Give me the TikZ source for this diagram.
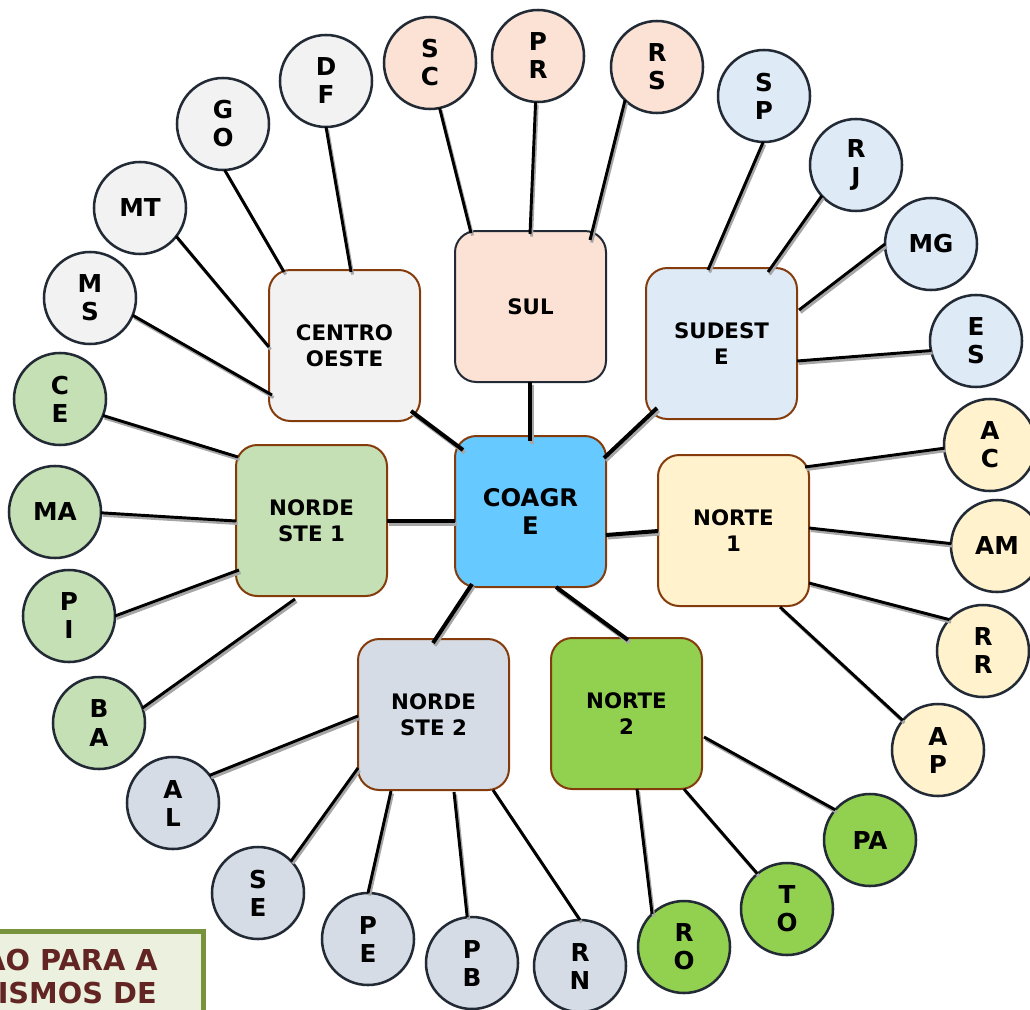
\documentclass[tikz,border=0pt]{standalone}
\usepackage{fontspec}
\setmainfont{DejaVu Sans}
\usetikzlibrary{calc}
\definecolor{boxbrown}{HTML}{843C0C}
\definecolor{circborder}{HTML}{222A35}
\definecolor{shadowgray}{HTML}{A6A6A6}
\definecolor{cco}{HTML}{F2F2F2}
\definecolor{csul}{HTML}{FBE2D5}
\definecolor{cse}{HTML}{DEEBF7}
\definecolor{ccoagre}{HTML}{66C9FF}
\definecolor{cnone}{HTML}{FFF2CC}
\definecolor{cneone}{HTML}{C5E0B4}
\definecolor{cnetwo}{HTML}{D6DCE5}
\definecolor{cntwo}{HTML}{92D050}
\definecolor{legfill}{HTML}{EBF1DE}
\definecolor{legborder}{HTML}{77933C}
\definecolor{legtext}{HTML}{632523}
\newcommand\cconn[3][2.2pt]{%
  \draw[shd,line width=#1] #2 -- #3;
  \draw[cn,line width=#1] #2 -- #3;}
\begin{document}
\begin{tikzpicture}[x=0.75pt,y=-0.75pt,
  regbox/.style={draw=boxbrown, line width=1.5pt, rounded corners=16pt,
    minimum width=113.25pt, minimum height=113.25pt, inner sep=0pt, outer sep=0pt,
    align=center, font=\fontsize{16}{19.5}\selectfont\bfseries},
  uf/.style={circle, draw=circborder, line width=1.9pt, minimum size=69pt,
    inner sep=0pt, outer sep=0pt, align=center, font=\fontsize{18.5}{21}\selectfont\bfseries},
  cn/.style={black},
  shd/.style={shadowgray, transform canvas={shift={(1.2pt,-1.9pt)}}}
]
\useasboundingbox (0,0) rectangle (1030,1009);

% legend box (partly off picture)
\path[fill=legfill, draw=legborder, line width=3.75pt] (-30,931) rectangle (203,1040);
\node[anchor=base east, text=legtext, font=\fontsize{21.6}{24}\selectfont\bfseries, inner sep=0pt] (leg1) at (158,970) {AO PARA A};
\node[anchor=base east, text=legtext, font=\fontsize{21.6}{24}\selectfont\bfseries, inner sep=0pt] (leg2) at (157,1003) {ISMOS DE};

% region boxes
\node[regbox, fill=cco] (co) at (344.5,345.5) {CENTRO\\OESTE};
\node[regbox, fill=csul, draw=circborder] (sul) at (530.5,306.5) {SUL};
\node[regbox, fill=cse] (se) at (721.5,343.5) {SUDEST\\E};
\node[regbox, fill=ccoagre, font=\fontsize{18.2}{21}\selectfont\bfseries] (coagre) at (530.5,511.5) {COAGR\\E};
\node[regbox, fill=cnone] (n1) at (733.5,530.5) {NORTE\\1};
\node[regbox, fill=cneone] (ne1) at (311.5,520.5) {NORDE\\STE 1};
\node[regbox, fill=cnetwo] (ne2) at (433.5,714.5) {NORDE\\STE 2};
\node[regbox, fill=cntwo] (n2) at (626.5,713.5) {NORTE\\2};

% states
\node[uf, fill=csul] (sc) at (430,63) {S\\C};
\node[uf, fill=csul] (pr) at (538,56) {P\\R};
\node[uf, fill=csul] (rs) at (657,67) {R\\S};
\node[uf, fill=cse] (sp) at (764,96) {S\\P};
\node[uf, fill=cse] (rj) at (856,165) {R\\J};
\node[uf, fill=cse] (mg) at (931,244) {MG};
\node[uf, fill=cse] (es) at (976,341) {E\\S};
\node[uf, fill=cnone] (ac) at (990,445) {A\\C};
\node[uf, fill=cnone] (am) at (997,546) {AM};
\node[uf, fill=cnone] (rr) at (983,651) {R\\R};
\node[uf, fill=cnone] (ap) at (938,750) {A\\P};
\node[uf, fill=cntwo] (pa) at (870,840) {PA};
\node[uf, fill=cntwo] (to) at (787,909) {T\\O};
\node[uf, fill=cntwo] (ro) at (684,947) {R\\O};
\node[uf, fill=cnetwo] (rn) at (580,966) {R\\N};
\node[uf, fill=cnetwo] (pb) at (472,963) {P\\B};
\node[uf, fill=cnetwo] (pe) at (368,939) {P\\E};
\node[uf, fill=cnetwo] (sg) at (258,893) {S\\E};
\node[uf, fill=cnetwo] (al) at (173,803) {A\\L};
\node[uf, fill=cneone] (ba) at (99,723) {B\\A};
\node[uf, fill=cneone] (pi) at (69,616) {P\\I};
\node[uf, fill=cneone] (ma) at (55,512) {MA};
\node[uf, fill=cneone] (ce) at (60,399) {C\\E};
\node[uf, fill=cco] (ms) at (90,298) {M\\S};
\node[uf, fill=cco] (mt) at (140,208) {MT};
\node[uf, fill=cco] (go) at (223,124) {G\\O};
\node[uf, fill=cco] (df) at (326,81) {D\\F};

% state -> region connectors
\cconn{(df.270)}{($(co.north west)+(82,2)$)}
\cconn{(go.272)}{($(co.north west)+(15,2)$)}
\cconn{(mt.322)}{($(co.north west)+(0,77)$)}
\cconn{(ms.338)}{($(co.north west)+(3,125)$)}
\cconn{(sc.282)}{($(sul.north west)+(16,2)$)}
\cconn{(pr.267)}{($(sul.north west)+(75,3)$)}
\cconn{(rs.226)}{($(sul.north west)+(135,9)$)}
\cconn{(sp.269)}{($(se.north west)+(62,2)$)}
\cconn{(rj.222)}{($(se.north west)+(122,4)$)}
\cconn{(mg.180)}{($(se.north west)+(153,42)$)}
\cconn{(es.192)}{($(se.north west)+(151,93)$)}
\cconn{(ac.184)}{($(n1.north west)+(147,12)$)}
\cconn{(am.177)}{($(n1.north west)+(151,73)$)}
\cconn{(rr.137)}{($(n1.north west)+(151,128)$)}
\cconn{(ap.140)}{($(n1.north west)+(122,152)$)}
\cconn{(pa.139)}{($(n2.north west)+(153,99)$)}
\cconn{(to.130)}{($(n2.north west)+(133,151)$)}
\cconn{(ro.134)}{($(n2.north west)+(86,151)$)}
\cconn{(rn.90)}{($(ne2.north west)+(135,151)$)}
\cconn{(pb.96)}{($(ne2.north west)+(96,153)$)}
\cconn{(pe.90)}{($(ne2.north west)+(33,152)$)}
\cconn{(sg.44)}{($(ne2.north west)+(0,129)$)}
\cconn{(al.37)}{($(ne2.north west)+(0,77)$)}
\cconn{(ba.19)}{($(ne1.north west)+(59,154)$)}
\cconn{(pi.0)}{($(ne1.north west)+(3,125)$)}
\cconn{(ma.359)}{($(ne1.north west)+(0,76)$)}
\cconn{(ce.339)}{($(ne1.north west)+(2,12)$)}

% region -> COAGRE connectors
\cconn[3pt]{($(co.north west)+(142,141)$)}{($(coagre.north west)+(8,14)$)}
\cconn[3pt]{($(sul.north west)+(75,151)$)}{($(coagre.north west)+(75,5)$)}
\cconn[3pt]{($(se.north west)+(11,140)$)}{($(coagre.north west)+(149,22)$)}
\cconn[3pt]{($(n1.north west)+(0,76)$)}{($(coagre.north west)+(151,99)$)}
\cconn[3pt]{($(n2.north west)+(77,2)$)}{($(coagre.north west)+(101,151)$)}
\cconn[3pt]{($(ne2.north west)+(75,4)$)}{($(coagre.north west)+(17,148)$)}
\cconn[3pt]{($(ne1.north west)+(151,76)$)}{($(coagre.north west)+(0,85)$)}
\end{tikzpicture}
\end{document}
